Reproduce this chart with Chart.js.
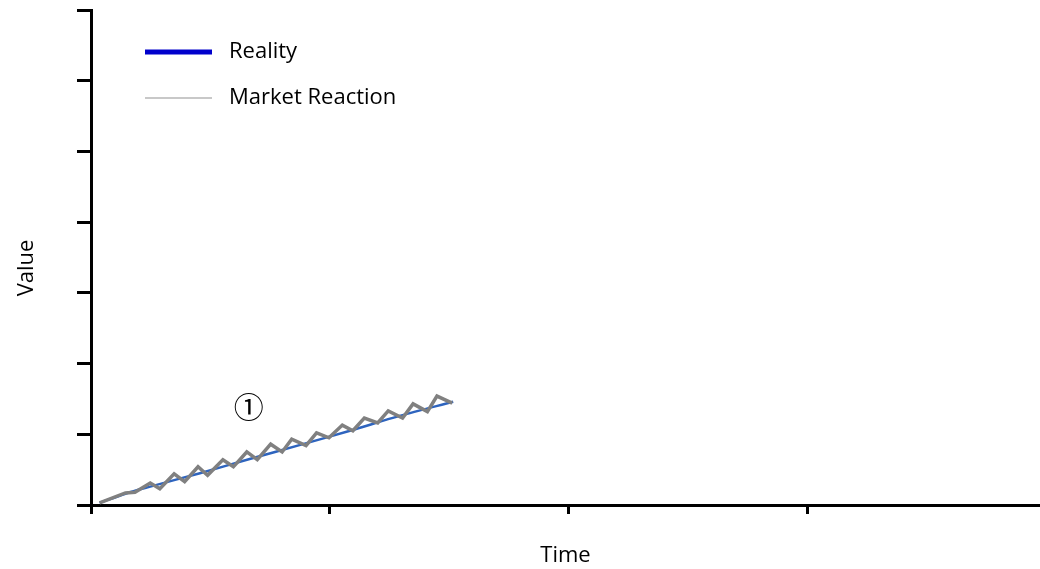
<!DOCTYPE html>
<html>
<head>
<meta charset="utf-8">
<script src="https://cdn.jsdelivr.net/npm/chart.js@4.4.1/dist/chart.umd.min.js"></script>
<style>
 html, body { margin: 0; padding: 0; background: #fff; overflow: hidden; }
 #wrap { width: 1040px; height: 569px; }
</style>
</head>
<body>
<div id="wrap"><canvas id="chart"></canvas></div>
<script>
const seriesNames = ['Reality', 'Market Reaction'];
const timeTicks = [0, 25, 50, 75];
const valueTicks = [0, 10, 20, 30, 40, 50, 60, 70];

const realityX = [0.9, 3.6, 6.2, 11.4, 16.6, 21.9, 27.1, 32.3, 37.9];
const realityY = [0.3, 1.6, 2.6, 4.5, 6.5, 8.5, 10.5, 12.6, 14.6];

const marketX = [0.9, 3.6, 4.6, 6.2, 7.2, 8.7, 9.8, 11.2, 12.2, 13.8, 14.9, 16.3, 17.4, 18.8, 20.0,
 21.0, 22.5, 23.6, 24.9, 26.3, 27.4, 28.6, 30.0, 31.1, 32.6, 33.7, 35.2, 36.2, 37.8];
const marketY = [0.3, 1.7, 1.8, 3.1, 2.3, 4.4, 3.3, 5.4, 4.2, 6.4, 5.4, 7.5, 6.4, 8.6, 7.5,
 9.3, 8.4, 10.2, 9.5, 11.3, 10.5, 12.3, 11.6, 13.3, 12.3, 14.3, 13.2, 15.4, 14.4];

const noteText = '\u2460';
const noteAt = [16.5, 13.9];

const FONT = '"Open Sans", "Liberation Sans", sans-serif';

const overlay = {
 id: 'overlay',
 afterDraw(chart) {
 const ctx = chart.ctx;
 const { x, y } = chart.scales;
 ctx.save();
 ctx.fillStyle = '#000';
 ctx.textBaseline = 'middle';

 // legend
 const items = [
 { text: seriesNames[0], color: '#0000CC', width: 5, y: 52 },
 { text: seriesNames[1], color: '#C8C8C8', width: 2, y: 98 },
 ];
 ctx.font = '22px ' + FONT;
 ctx.textAlign = 'left';
 items.forEach(it => {
 ctx.strokeStyle = it.color;
 ctx.lineWidth = it.width;
 ctx.beginPath();
 ctx.moveTo(145, it.y);
 ctx.lineTo(212, it.y);
 ctx.stroke();
 ctx.fillText(it.text, 229, it.y);
 });

 // y axis title
 ctx.save();
 ctx.translate(27, 268);
 ctx.rotate(-Math.PI / 2);
 ctx.textAlign = 'center';
 ctx.fillText('Value', 0, 0);
 ctx.restore();

 // circled marker
 ctx.font = '30px "Noto Sans CJK JP", "DejaVu Sans", sans-serif';
 ctx.textAlign = 'center';
 ctx.fillText(noteText, x.getPixelForValue(noteAt[0]), y.getPixelForValue(noteAt[1]));
 ctx.restore();
 }
};

const ctx = document.getElementById('chart').getContext('2d');
new Chart(ctx, {
 type: 'line',
 data: {
 datasets: [
 {
 label: seriesNames[0],
 data: realityX.map((v, i) => ({ x: v, y: realityY[i] })),
 borderColor: '#2E64BE',
 borderWidth: 2.5,
 pointRadius: 0,
 tension: 0.3,
 fill: false,
 order: 1,
 },
 {
 label: seriesNames[1],
 data: marketX.map((v, i) => ({ x: v, y: marketY[i] })),
 borderColor: '#808080',
 borderWidth: 3.5,
 pointRadius: 0,
 tension: 0,
 fill: false,
 order: 0,
 },
 ],
 },
 options: {
 responsive: true,
 maintainAspectRatio: false,
 animation: false,
 devicePixelRatio: 1,
 layout: { padding: { top: 10, right: 0, left: 0, bottom: 0 } },
 plugins: {
 legend: { display: false },
 tooltip: { enabled: false },
 },
 scales: {
 x: {
 type: 'linear',
 position: 'bottom',
 min: 0,
 max: 99.3,
 afterBuildTicks: s => { s.ticks = timeTicks.map(v => ({ value: v })); },
 afterFit: s => { s.height = 64; },
 ticks: { display: false },
 grid: { drawOnChartArea: false, drawTicks: true, tickLength: 9, color: '#000', lineWidth: 3 },
 border: { color: '#000', width: 3 },
 title: { display: true, text: 'Time', color: '#000', font: { family: FONT, size: 22 }, padding: 0 },
 },
 y: {
 type: 'linear',
 min: 0,
 max: 70,
 afterBuildTicks: s => { s.ticks = valueTicks.map(v => ({ value: v })); },
 afterFit: s => { s.width = 91; },
 ticks: { display: false },
 grid: { drawOnChartArea: false, drawTicks: true, tickLength: 14, color: '#000', lineWidth: 3 },
 border: { color: '#000', width: 3 },
 },
 },
 },
 plugins: [overlay],
});
</script>
</body>
</html>
